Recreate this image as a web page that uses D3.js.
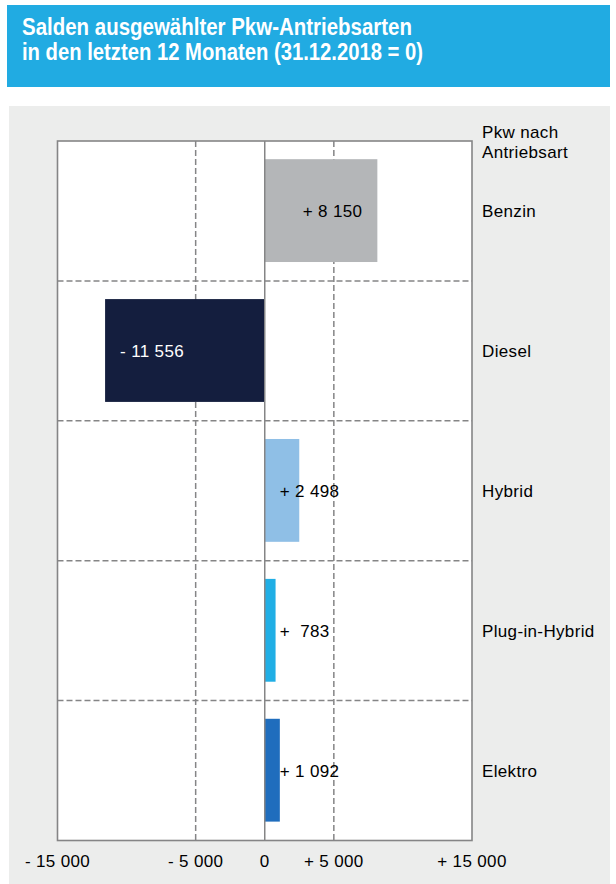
<!DOCTYPE html>
<html>
<head>
<meta charset="utf-8">
<script src="https://cdn.jsdelivr.net/npm/d3@7"></script>
<style>
  html, body { margin: 0; padding: 0; background: #ffffff; }
  svg { display: block; font-family: "Liberation Sans", Arial, sans-serif; }
  svg text { white-space: pre; }
</style>
</head>
<body>
<svg id="chart" width="616" height="884"></svg>
<script>
// Balance of selected passenger-car drive types over the last 12 months
const categories = ["Benzin", "Diesel", "Hybrid", "Plug-in-Hybrid", "Elektro"];
const values = [8150, -11556, 2498, 783, 1092];
const valueLabels = ["+ 8 150", "- 11 556", "+ 2 498", "+  783", "+ 1 092"];
const barColors = ["#b4b6b8", "#141e3e", "#8fbfe6", "#20aee5", "#1f6dbd"];
const tickValues = [-15000, -5000, 0, 5000, 15000];
const tickLabels = ["- 15 000", "- 5 000", "0", "+ 5 000", "+ 15 000"];
const titleLines = ["Salden ausgewählter Pkw-Antriebsarten", "in den letzten 12 Monaten (31.12.2018 = 0)"];
const legendTitle = ["Pkw nach", "Antriebsart"];

const svg = d3.select("#chart");

// Title banner
svg.append("rect").attr("x", 7).attr("y", 5).attr("width", 603).attr("height", 82).attr("fill", "#21abe2");
const titleWidths = [390, 401];
titleLines.forEach((t, i) => {
  svg.append("text")
    .attr("x", 22).attr("y", 35 + i * 25)
    .attr("fill", "#ffffff").attr("font-weight", "bold").attr("font-size", 23)
    .attr("textLength", titleWidths[i]).attr("lengthAdjust", "spacingAndGlyphs")
    .text(t);
});

// Grey panel
svg.append("rect").attr("x", 9).attr("y", 106).attr("width", 601).attr("height", 778).attr("fill", "#ecedec");

const plot = { left: 57.5, right: 472, top: 141, bottom: 840.5 };

const x = d3.scaleLinear().domain([-15000, 15000]).range([plot.left, plot.right]);
const y = d3.scaleBand().domain(categories).range([plot.top, plot.bottom]).padding(0);

// Plot background
svg.append("rect")
  .attr("x", plot.left).attr("y", plot.top)
  .attr("width", plot.right - plot.left).attr("height", plot.bottom - plot.top)
  .attr("fill", "#ffffff");

const gridColor = "#858586";
const labelFont = 17;
const labelSpacing = 0.35;

// Dashed vertical grid lines
svg.append("g").selectAll("line")
  .data(tickValues.filter(v => v !== 0 && Math.abs(v) !== 15000))
  .join("line")
  .attr("x1", d => x(d)).attr("x2", d => x(d))
  .attr("y1", plot.top).attr("y2", plot.bottom)
  .attr("stroke", gridColor).attr("stroke-width", 1.5).attr("stroke-dasharray", "6,3");

// Dashed row separators
svg.append("g").selectAll("line")
  .data(categories.slice(1))
  .join("line")
  .attr("x1", plot.left).attr("x2", plot.right)
  .attr("y1", d => y(d)).attr("y2", d => y(d))
  .attr("stroke", gridColor).attr("stroke-width", 1.5).attr("stroke-dasharray", "6,3");

// Bars
const barPad = y.bandwidth() * 0.13;
const barH = y.bandwidth() * 0.735;
svg.append("g").selectAll("rect")
  .data(values)
  .join("rect")
  .attr("x", d => Math.min(x(0), x(d)))
  .attr("y", (d, i) => y(categories[i]) + barPad)
  .attr("width", d => Math.abs(x(d) - x(0)))
  .attr("height", barH)
  .attr("fill", (d, i) => barColors[i]);

// Zero line and frame
svg.append("line")
  .attr("x1", x(0)).attr("x2", x(0)).attr("y1", plot.top).attr("y2", plot.bottom)
  .attr("stroke", gridColor).attr("stroke-width", 1.5);
svg.append("rect")
  .attr("x", plot.left).attr("y", plot.top)
  .attr("width", plot.right - plot.left).attr("height", plot.bottom - plot.top)
  .attr("fill", "none").attr("stroke", gridColor).attr("stroke-width", 1.6);

// Value labels
svg.append("g").selectAll("text")
  .data(values)
  .join("text")
  .attr("x", d => Math.abs(d) > 5000 ? (d > 0 ? x(d) - 15 : x(d) + 15) : x(0) + 15)
  .attr("text-anchor", d => (Math.abs(d) > 5000 && d > 0) ? "end" : "start")
  .attr("y", (d, i) => y(categories[i]) + y.bandwidth() / 2)
  .attr("dy", "0.36em")
  .attr("font-size", labelFont)
  .attr("letter-spacing", labelSpacing)
  .attr("fill", (d, i) => i === 1 ? "#ffffff" : "#000000")
  .text((d, i) => valueLabels[i]);

// Category labels
svg.append("g").selectAll("text")
  .data(categories)
  .join("text")
  .attr("x", 482)
  .attr("y", d => y(d) + y.bandwidth() / 2)
  .attr("dy", "0.36em")
  .attr("font-size", labelFont)
  .attr("letter-spacing", labelSpacing)
  .attr("fill", "#000000")
  .text(d => d);

// Category heading
legendTitle.forEach((t, i) => {
  svg.append("text")
    .attr("x", 482).attr("y", 138 + i * 20)
    .attr("font-size", labelFont).attr("letter-spacing", labelSpacing).attr("fill", "#000000")
    .text(t);
});

// X axis tick labels
svg.append("g").selectAll("text")
  .data(tickValues)
  .join("text")
  .attr("x", d => x(d))
  .attr("y", 861)
  .attr("dy", "0.36em")
  .attr("text-anchor", "middle")
  .attr("font-size", labelFont)
  .attr("letter-spacing", labelSpacing)
  .attr("fill", "#000000")
  .text((d, i) => tickLabels[i]);
</script>
</body>
</html>
